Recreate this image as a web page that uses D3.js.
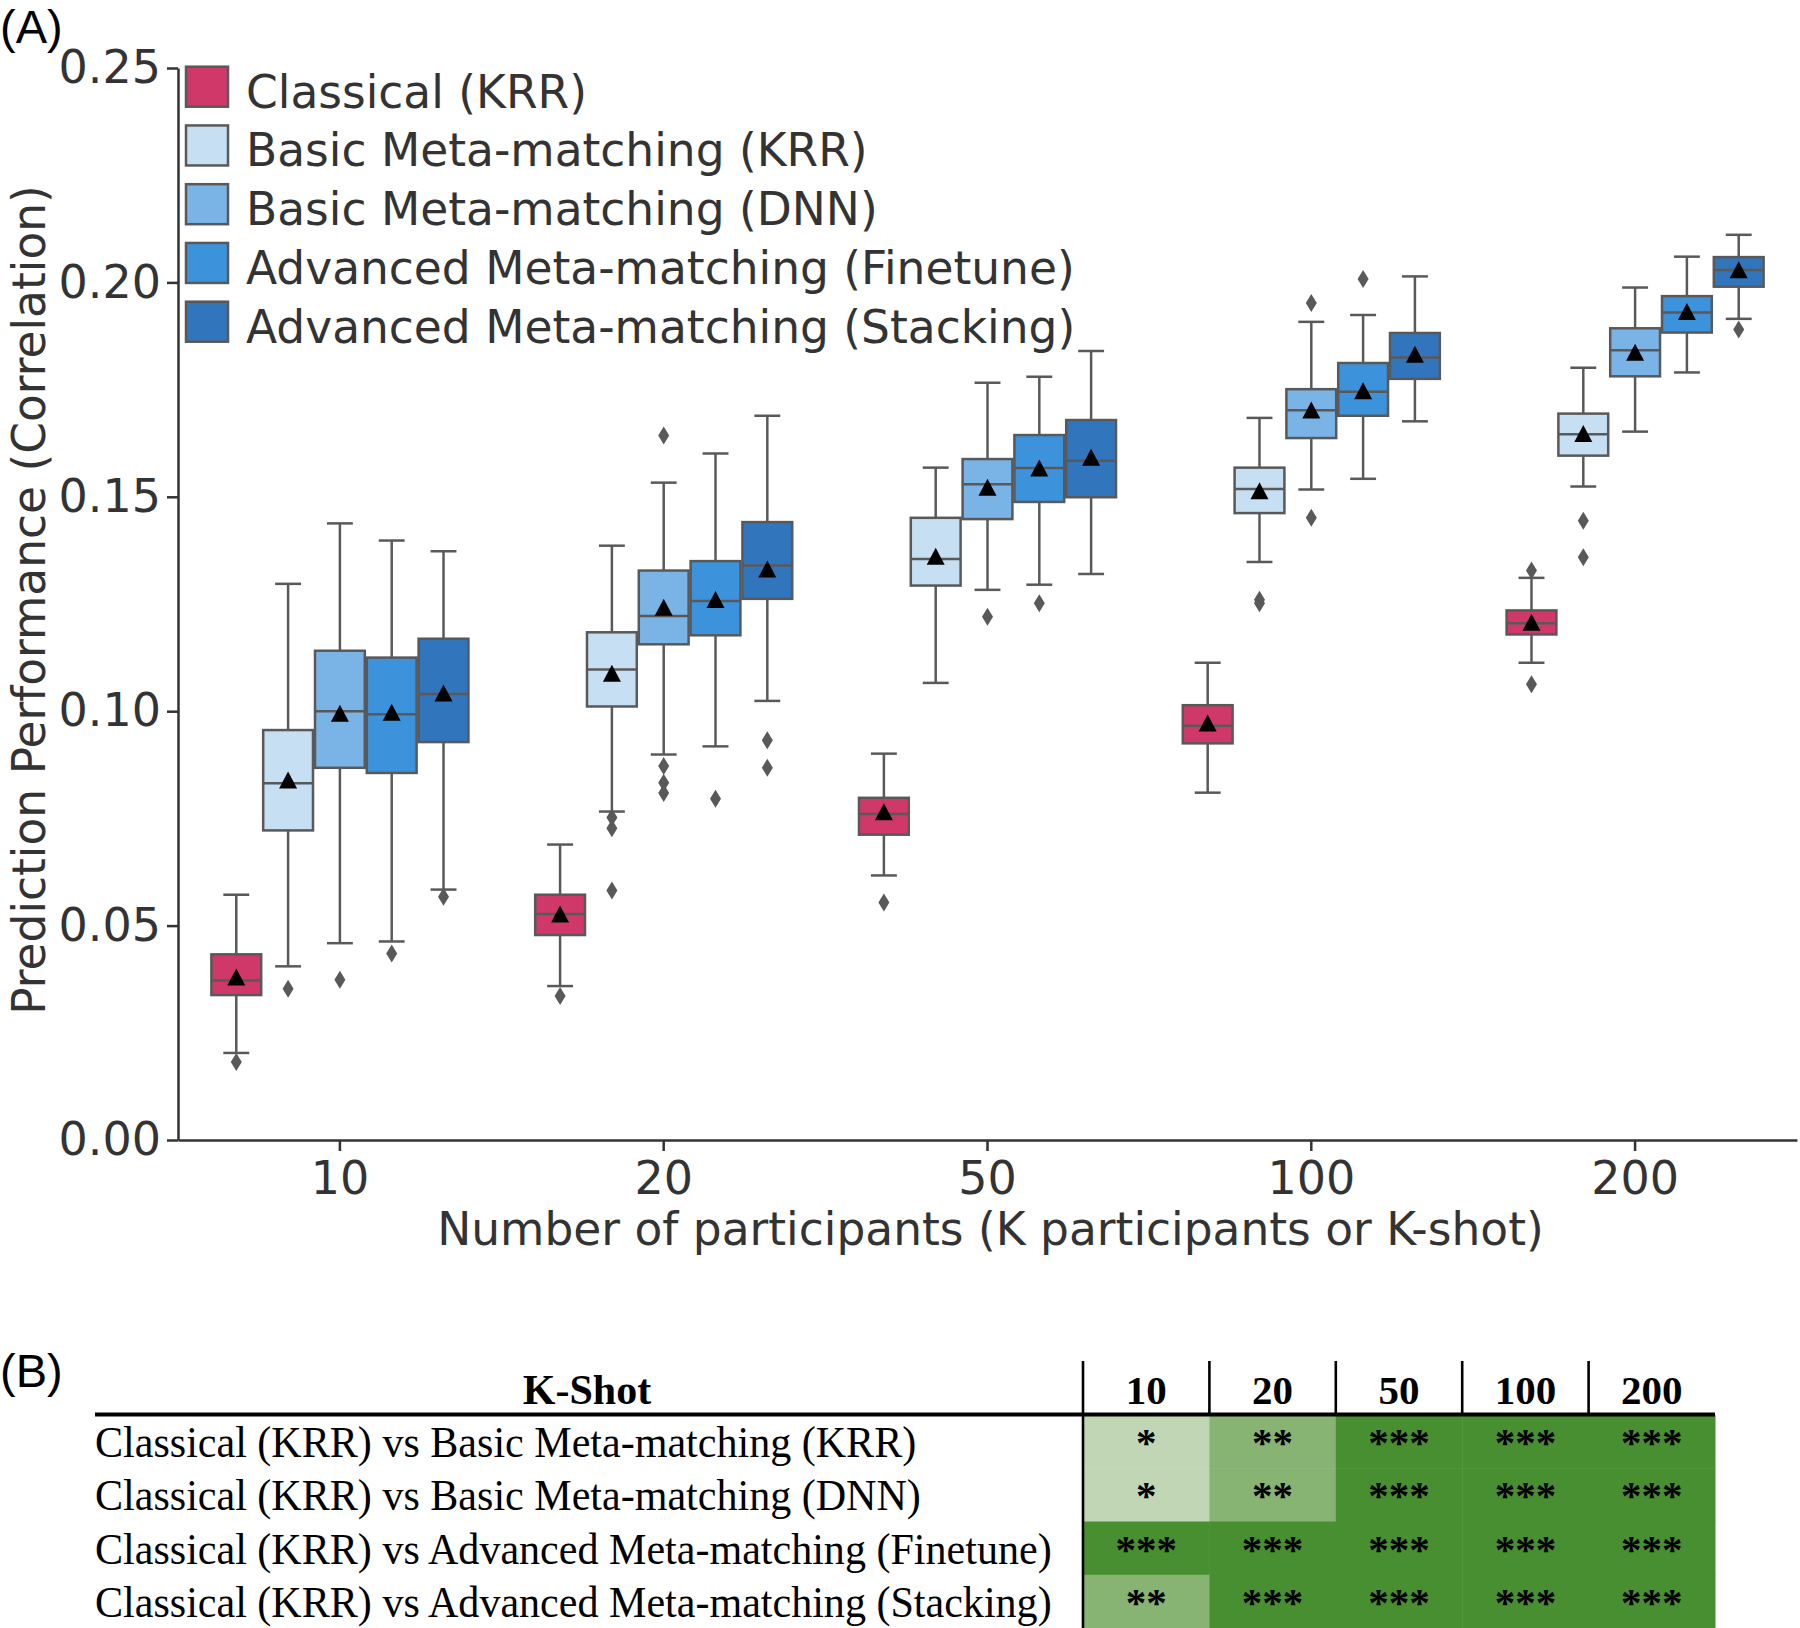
<!DOCTYPE html>
<html><head><meta charset="utf-8">
<script src="https://cdn.jsdelivr.net/npm/d3@7"></script>
<style>body{margin:0;background:#fff}</style>
</head><body>
<script>
// ---------------- DATA ----------------
const categories = ["10", "20", "50", "100", "200"];
const seriesNames = ["Classical (KRR)", "Basic Meta-matching (KRR)", "Basic Meta-matching (DNN)",
  "Advanced Meta-matching (Finetune)", "Advanced Meta-matching (Stacking)"];
const seriesColors = ["#d0386a", "#c6dff3", "#7ab3e5", "#3c93db", "#3176bd"];
const yTicks = [0, 0.05, 0.10, 0.15, 0.20, 0.25];

// per K: [whiskerLow, q1, median, q3, whiskerHigh, mean]
const classicalKRR = [
  [0.0203, 0.0338, 0.0372, 0.0433, 0.0572, 0.0378],
  [0.0359, 0.0478, 0.0527, 0.0572, 0.0689, 0.0525],
  [0.0617, 0.0712, 0.0760, 0.0798, 0.0901, 0.0763],
  [0.0810, 0.0925, 0.0966, 0.1014, 0.1113, 0.0970],
  [0.1113, 0.1179, 0.1205, 0.1235, 0.1311, 0.1205]];
const basicKRR = [
  [0.0405, 0.0722, 0.0832, 0.0956, 0.1297, 0.0837],
  [0.0766, 0.1011, 0.1097, 0.1184, 0.1386, 0.1086],
  [0.1066, 0.1293, 0.1355, 0.1451, 0.1568, 0.1359],
  [0.1348, 0.1462, 0.1518, 0.1568, 0.1684, 0.1512],
  [0.1524, 0.1596, 0.1646, 0.1694, 0.1801, 0.1645]];
const basicDNN = [
  [0.0459, 0.0868, 0.1000, 0.1141, 0.1438, 0.0993],
  [0.0899, 0.1156, 0.1222, 0.1328, 0.1533, 0.1240],
  [0.1283, 0.1448, 0.1529, 0.1588, 0.1766, 0.1520],
  [0.1517, 0.1637, 0.1702, 0.1751, 0.1908, 0.1700],
  [0.1652, 0.1781, 0.1842, 0.1893, 0.1988, 0.1835]];
const advFinetune = [
  [0.0463, 0.0856, 0.0993, 0.1125, 0.1398, 0.0995],
  [0.0918, 0.1177, 0.1257, 0.1350, 0.1601, 0.1258],
  [0.1295, 0.1488, 0.1567, 0.1644, 0.1780, 0.1565],
  [0.1542, 0.1689, 0.1745, 0.1812, 0.1924, 0.1745],
  [0.1790, 0.1883, 0.1930, 0.1968, 0.2060, 0.1930]];
const advStacking = [
  [0.0584, 0.0928, 0.1040, 0.1169, 0.1373, 0.1040],
  [0.1024, 0.1262, 0.1340, 0.1441, 0.1689, 0.1329],
  [0.1320, 0.1499, 0.1584, 0.1679, 0.1840, 0.1590],
  [0.1676, 0.1775, 0.1825, 0.1882, 0.2014, 0.1830],
  [0.1915, 0.1990, 0.2029, 0.2059, 0.2111, 0.2027]];

// outliers per K
const classicalKRROutliers = [[0.0182], [0.0336], [0.0554], [], [0.1328, 0.1063]];
const basicKRROutliers = [[0.0353], [0.0752, 0.0727, 0.0582], [], [0.1252, 0.1260], [0.1444, 0.1359]];
const basicDNNOutliers = [[0.0374], [0.0872, 0.0833, 0.0809, 0.1643], [0.1220], [0.1451, 0.1952], []];
const advFinetuneOutliers = [[0.0435], [0.0796], [0.1252], [0.2008], []];
const advStackingOutliers = [[0.0567], [0.0932, 0.0868], [], [], [0.1890]];

// table (B)
const tableTitle = "K-Shot";
const tableRows = [
  "Classical (KRR) vs Basic Meta-matching (KRR)",
  "Classical (KRR) vs Basic Meta-matching (DNN)",
  "Classical (KRR) vs Advanced Meta-matching (Finetune)",
  "Classical (KRR) vs Advanced Meta-matching (Stacking)"];
const tableSignificance = [
  [1, 2, 3, 3, 3],
  [1, 2, 3, 3, 3],
  [3, 3, 3, 3, 3],
  [2, 3, 3, 3, 3]];
const significanceColors = ["#c0d6b5", "#87b373", "#488f31"];

// ---------------- DRAW ----------------
const allStats = [classicalKRR, basicKRR, basicDNN, advFinetune, advStacking];
const allOutliers = [classicalKRROutliers, basicKRROutliers, basicDNNOutliers, advFinetuneOutliers, advStackingOutliers];

const W = 1800, H = 1628;
const svg = d3.select("body").append("svg").attr("width", W).attr("height", H);
const plotLeft = 178, plotRight = 1797, plotTop = 68, plotBottom = 1140;
const textColor = "#333333", edge = "#595959";
const sans = "DejaVu Sans";
const fs = "45.5px";

const x = d3.scaleBand().domain(categories).range([plotLeft, plotRight]);
const hue = d3.scaleBand().domain(seriesNames).range([0.1 * x.bandwidth(), 0.9 * x.bandwidth()]);
const y = d3.scaleLinear().domain([0, 0.25]).range([plotBottom, plotTop]);

// axes
const yAxis = svg.append("g").attr("transform", `translate(${plotLeft},0)`)
  .call(d3.axisLeft(y).tickValues(yTicks).tickFormat(d3.format(".2f")).tickSize(11).tickSizeOuter(0).tickPadding(6));
const xAxis = svg.append("g").attr("transform", `translate(0,${plotBottom})`)
  .call(d3.axisBottom(x).tickSize(11).tickSizeOuter(0).tickPadding(10));
[yAxis, xAxis].forEach(a => {
  a.select(".domain").attr("stroke", textColor).attr("stroke-width", 2.5);
  a.selectAll(".tick line").attr("stroke", textColor).attr("stroke-width", 2.5);
  a.selectAll(".tick text").attr("fill", textColor).style("font-family", sans).style("font-size", "46px");
});

svg.append("text").attr("transform", `translate(45,${(plotTop + plotBottom) / 2 - 4}) rotate(-90)`)
  .attr("text-anchor", "middle").attr("fill", textColor).style("font-family", sans).style("font-size", fs)
  .text("Prediction Performance (Correlation)");
svg.append("text").attr("x", (plotLeft + plotRight) / 2 + 3).attr("y", 1245)
  .attr("text-anchor", "middle").attr("fill", textColor).style("font-family", sans).style("font-size", fs)
  .text("Number of participants (K participants or K-shot)");

svg.append("text").attr("x", 0).attr("y", 43).attr("fill", "#000")
  .style("font-family", "Liberation Sans").style("font-size", "47px").text("(A)");

// boxes
const records = [];
allStats.forEach((stats, si) => stats.forEach((s, ci) => {
  records.push({ cat: categories[ci], series: seriesNames[si], si,
    lo: s[0], q1: s[1], med: s[2], q3: s[3], hi: s[4], mean: s[5], outliers: allOutliers[si][ci] });
}));
const bw = hue.bandwidth();
const cx = d => x(d.cat) + hue(d.series) + bw / 2;
const sw = 2.5;
const boxG = svg.append("g");
const bx = boxG.selectAll("g.box").data(records).join("g").attr("class", "box");
bx.append("line").attr("x1", cx).attr("x2", cx).attr("y1", d => y(d.lo)).attr("y2", d => y(d.q1))
  .attr("stroke", edge).attr("stroke-width", sw);
bx.append("line").attr("x1", cx).attr("x2", cx).attr("y1", d => y(d.q3)).attr("y2", d => y(d.hi))
  .attr("stroke", edge).attr("stroke-width", sw);
bx.append("line").attr("x1", d => cx(d) - bw / 4).attr("x2", d => cx(d) + bw / 4).attr("y1", d => y(d.lo)).attr("y2", d => y(d.lo))
  .attr("stroke", edge).attr("stroke-width", sw);
bx.append("line").attr("x1", d => cx(d) - bw / 4).attr("x2", d => cx(d) + bw / 4).attr("y1", d => y(d.hi)).attr("y2", d => y(d.hi))
  .attr("stroke", edge).attr("stroke-width", sw);
bx.append("rect").attr("x", d => cx(d) - bw / 2 + 1).attr("width", bw - 2)
  .attr("y", d => y(d.q3)).attr("height", d => y(d.q1) - y(d.q3))
  .attr("fill", d => seriesColors[d.si]).attr("stroke", edge).attr("stroke-width", sw);
bx.append("line").attr("x1", d => cx(d) - bw / 2 + 1).attr("x2", d => cx(d) + bw / 2 - 1)
  .attr("y1", d => y(d.med)).attr("y2", d => y(d.med)).attr("stroke", edge).attr("stroke-width", sw);
bx.selectAll("path.out").data(d => d.outliers.map(v => ({ v, c: cx(d) }))).join("path").attr("class", "out")
  .attr("d", o => `M${o.c},${y(o.v) - 9}L${o.c + 5.5},${y(o.v)}L${o.c},${y(o.v) + 9}L${o.c - 5.5},${y(o.v)}Z`)
  .attr("fill", edge);
bx.append("path")
  .attr("d", d => { const c = cx(d), m = y(d.mean); return `M${c},${m - 9.5}L${c + 9},${m + 7.5}L${c - 9},${m + 7.5}Z`; })
  .attr("fill", "#000");

// legend
const legY = d3.scaleBand().domain(seriesNames).range([66.7, 66.7 + 58.75 * 5]);
const leg = svg.append("g").selectAll("g").data(seriesNames).join("g");
leg.append("rect").attr("x", 186).attr("y", d => legY(d)).attr("width", 42).attr("height", 40)
  .attr("fill", (d, i) => seriesColors[i]).attr("stroke", edge).attr("stroke-width", 2.5);
leg.append("text").attr("x", 246).attr("y", d => legY(d) + 41).attr("fill", textColor)
  .style("font-family", sans).style("font-size", fs).text(d => d);

// ---------------- TABLE (B) ----------------
const serif = "Liberation Serif";
svg.append("text").attr("x", 0).attr("y", 1387).attr("fill", "#000")
  .style("font-family", "Liberation Sans").style("font-size", "47px").text("(B)");
const colX = d3.scaleBand().domain(categories).range([1083, 1715]);
const rowY = d3.scaleBand().domain(d3.range(tableRows.length)).range([1415, 1628]);

const cells = [];
tableSignificance.forEach((r, ri) => r.forEach((lv, ci) => cells.push({ ri, cat: categories[ci], lv })));
svg.append("g").selectAll("rect").data(cells).join("rect")
  .attr("x", d => colX(d.cat)).attr("y", d => rowY(d.ri)).attr("width", colX.bandwidth() + 0.5).attr("height", rowY.bandwidth() + 0.5)
  .attr("fill", d => significanceColors[d.lv - 1]);
svg.append("g").selectAll("text").data(cells).join("text")
  .attr("transform", d => `translate(${colX(d.cat) + colX.bandwidth() / 2},${rowY(d.ri) + 41})`)
  .attr("text-anchor", "middle").attr("fill", "#000").style("font-family", serif).style("font-weight", "bold")
  .style("font-size", "41px").text(d => "*".repeat(d.lv));

svg.append("g").selectAll("text").data(tableRows).join("text")
  .attr("transform", (d, i) => `translate(95,${rowY(i) + 42}) scale(0.935,1)`)
  .attr("fill", "#000").style("font-family", serif).style("font-size", "45px").text(d => d);

svg.append("text").attr("x", 587).attr("y", 1404).attr("text-anchor", "middle").attr("fill", "#000")
  .style("font-family", serif).style("font-weight", "bold").style("font-size", "42px").text(tableTitle);
svg.append("g").selectAll("text").data(categories).join("text")
  .attr("x", d => colX(d) + colX.bandwidth() / 2).attr("y", 1404).attr("text-anchor", "middle").attr("fill", "#000")
  .style("font-family", serif).style("font-weight", "bold").style("font-size", "41px").text(d => d);

svg.append("line").attr("x1", 95).attr("x2", 1715).attr("y1", 1414.5).attr("y2", 1414.5)
  .attr("stroke", "#000").attr("stroke-width", 4);
svg.append("g").selectAll("line").data(categories).join("line")
  .attr("x1", d => colX(d)).attr("x2", d => colX(d)).attr("y1", 1361)
  .attr("y2", (d, i) => i === 0 ? 1628 : 1414).attr("stroke", "#000").attr("stroke-width", 2.6);
</script>
</body></html>
